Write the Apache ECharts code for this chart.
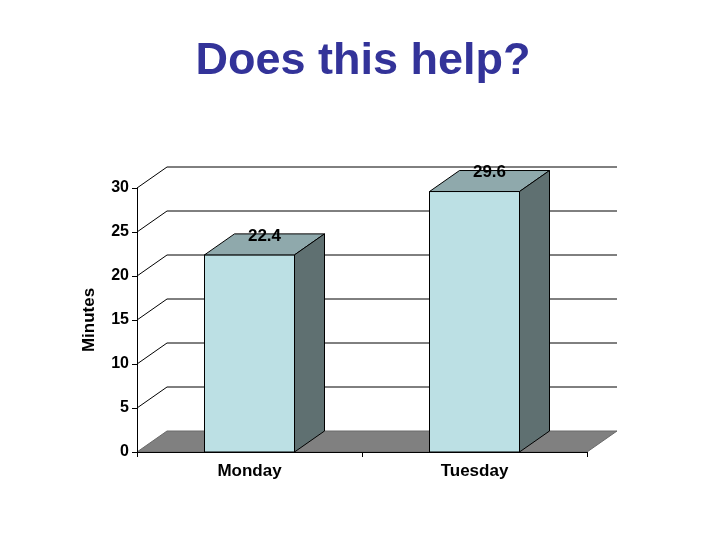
<!DOCTYPE html>
<html>
<head>
<meta charset="utf-8">
<script src="https://cdn.jsdelivr.net/npm/echarts@6/dist/echarts.min.js"></script>
<style>html,body{margin:0;padding:0;background:#fff}#c{width:720px;height:540px}</style>
</head>
<body>
<div id="c"></div>
<script>
const titleText = 'Does this help?';
const categories = ['Monday', 'Tuesday'];
const minutes = [22.4, 29.6];
const yTickValues = [0, 5, 10, 15, 20, 25, 30];
const yAxisName = 'Minutes';

const DX = 30, DY = -21;
const FONT = "'Liberation Sans', Arial, sans-serif";

const chart = echarts.init(document.getElementById('c'), null, {renderer: 'canvas'});

function wallItem(params, api) {
  const cs = params.coordSys;
  const v = api.value(1);
  const y = api.coord([0, v])[1];
  const L = cs.x, R = cs.x + cs.width;
  if (v === 0) {
    return {
      type: 'polygon',
      shape: {points: [[L, y], [R, y], [R + DX, y + DY], [L + DX, y + DY]]},
      style: {fill: '#808080', stroke: '#6a6a6a', lineWidth: 1}
    };
  }
  return {
    type: 'polyline',
    shape: {points: [[L, y], [L + DX, y + DY], [R + DX, y + DY]]},
    style: {fill: null, stroke: '#000', lineWidth: 1}
  };
}

function barItem(params, api) {
  const i = api.value(0);
  const v = api.value(1);
  const base = api.coord([i, 0]);
  const top = api.coord([i, v]);
  const w = api.size([1, 0])[0] * 0.4;
  const x0 = base[0] - w / 2, x1 = base[0] + w / 2;
  const by = base[1], ty = top[1];
  const st = {stroke: '#000', lineWidth: 1};
  return {
    type: 'group',
    children: [
      {type: 'polygon', shape: {points: [[x0, ty], [x1, ty], [x1, by], [x0, by]]},
        style: Object.assign({fill: '#BCE0E4'}, st)},
      {type: 'polygon', shape: {points: [[x0, ty], [x1, ty], [x1 + DX, ty + DY], [x0 + DX, ty + DY]]},
        style: Object.assign({fill: '#8FA9AC'}, st)},
      {type: 'polygon', shape: {points: [[x1, ty], [x1 + DX, ty + DY], [x1 + DX, by + DY], [x1, by]]},
        style: Object.assign({fill: '#5F7071'}, st)},
      {type: 'text', x: base[0] + DX / 2, y: ty - 19,
        style: {text: String(v), fill: '#000', font: 'bold 17px ' + FONT, align: 'center', verticalAlign: 'middle'}}
    ]
  };
}

chart.setOption({
  animation: false,
  backgroundColor: '#fff',
  title: {
    text: titleText,
    left: 358, top: 34, textAlign: 'center',
    textStyle: {color: '#333399', fontSize: 45, fontWeight: 'bold', fontFamily: "'Liberation Sans', Arial, sans-serif"}
  },
  grid: {left: 137, right: 133, top: 188, bottom: 88, containLabel: false},
  xAxis: {
    type: 'category',
    data: categories,
    axisLine: {show: true, lineStyle: {color: '#000', width: 1}},
    axisTick: {show: true, length: 5, lineStyle: {color: '#000'}},
    axisLabel: {color: '#000', fontSize: 17, fontWeight: 'bold', fontFamily: FONT, margin: 11},
    splitLine: {show: false},
    z: 10
  },
  yAxis: {
    type: 'value',
    min: 0, max: 30, interval: 5,
    name: yAxisName,
    nameLocation: 'middle',
    nameGap: 39,
    nameTextStyle: {color: '#000', fontSize: 17, fontWeight: 'bold', fontFamily: FONT},
    axisLine: {show: true, lineStyle: {color: '#000', width: 1}},
    axisTick: {show: true, length: 5, lineStyle: {color: '#000'}},
    axisLabel: {color: '#000', fontSize: 16, fontWeight: 'bold', fontFamily: FONT, margin: 8},
    splitLine: {show: false},
    z: 10
  },
  series: [
    {
      type: 'custom',
      renderItem: wallItem,
      data: yTickValues.map(v => [0, v]),
      encode: {x: 0, y: 1},
      clip: false,
      silent: true,
      z: 1
    },
    {
      type: 'custom',
      renderItem: barItem,
      data: minutes.map((v, i) => [i, v]),
      encode: {x: 0, y: 1},
      clip: false,
      z: 2
    }
  ]
});
</script>
</body>
</html>
